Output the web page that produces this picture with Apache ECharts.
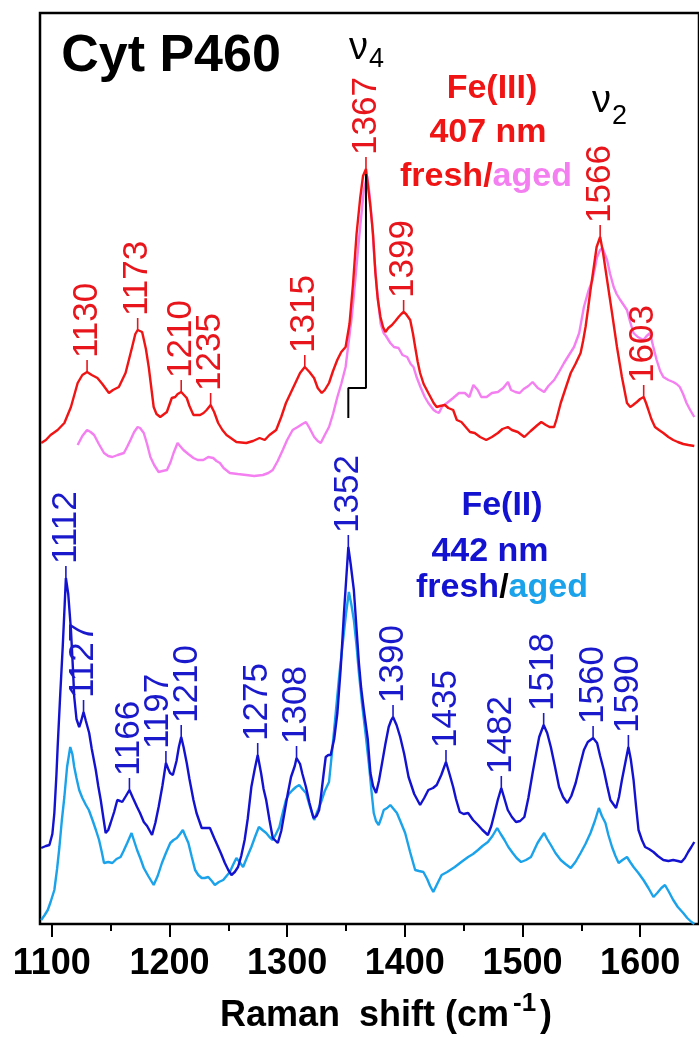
<!DOCTYPE html>
<html>
<head>
<meta charset="utf-8">
<script src="https://cdn.jsdelivr.net/npm/echarts@6/dist/echarts.min.js"></script>
<style>
  html, body { margin: 0; padding: 0; background: #fff; }
  #chart { width: 699px; height: 1038px; }
</style>
</head>
<body>
<div id="chart"></div>
<script>
// Resonance Raman spectra of Cyt P460: Fe(III) at 407 nm excitation and Fe(II) at 442 nm,
// each as a fresh and an aged sample. Points are [Raman shift (cm-1), intensity (a.u., offset)].

const fe3Fresh = [
  [1091,481],[1095,484],[1099,489],[1105,494],[1110.7,501],[1116.3,517],[1122,541],[1126,549],[1130,552],
  [1134,549],[1138.8,546],[1143,540],[1148.6,531],[1152,534],[1157,537],[1162.7,551],[1168.3,577],[1171,590],
  [1173,594],[1176.8,592],[1180,575],[1182.4,557],[1186.6,517],[1189,510],[1192.2,507],[1197.8,512],[1202,526],
  [1204.9,527],[1207,530],[1210,532],[1214.7,526],[1217,518],[1220.4,509],[1226,509],[1229,511],[1231.6,514],
  [1235,519],[1238,512],[1241.4,501],[1245,494],[1248.5,489],[1256.9,482],[1265.3,481],[1271,483],[1276.6,486],
  [1281,484],[1285,489],[1290.7,494],[1295,507],[1299,521],[1303,531],[1307.4,542],[1311,551],[1315,557],
  [1319,552],[1322.9,546],[1326,536],[1329.4,531],[1332,534],[1335.6,541],[1339,553],[1342.6,564],[1346,572],
  [1349.7,577],[1353,600],[1356,640],[1359,690],[1362,725],[1364.5,748],[1367,755],[1369,735],[1370.8,717],
  [1373,690],[1375,651],[1377,625],[1379.3,607],[1381.5,597],[1383.5,592],[1386,596],[1389.1,599],[1392,603],
  [1394.7,607],[1397,610],[1399,612],[1401,610],[1404.6,604],[1407,590],[1408.8,577],[1411,562],[1413,551],
  [1416,540],[1420,531],[1424.5,521],[1427.1,517],[1430,518],[1434.1,519],[1437,516],[1441.1,514],[1444.2,504],
  [1448.1,502],[1455.4,492],[1459.4,491],[1464,487],[1469.2,484],[1474,487],[1479.1,491],[1483,495],[1487.5,497],
  [1491,494],[1496,492],[1501.6,487],[1507,493],[1512.8,499],[1516,502],[1519.9,499],[1523,497],[1526.9,497],
  [1529,505],[1532.5,521],[1537,537],[1541,551],[1545,560],[1549.4,571],[1551.5,583],[1553.6,597],[1555.7,615],
  [1557.8,634],[1560,652],[1563,677],[1566,687],[1568.5,671],[1571.9,644],[1576.1,611],[1580.3,577],[1584.5,547],
  [1588.8,521],[1591.6,517],[1594,519],[1597.2,522],[1600,525],[1603,527],[1605,521],[1607,514],[1609.5,505],
  [1612.6,497],[1616,494],[1619.7,491],[1624,487],[1628.1,484],[1632,482],[1636.6,480],[1641,479],[1646,478]
];

const fe3Aged = [
  [1122,479],[1126,488],[1130,494],[1133,492],[1136,489],[1140,480],[1144.4,471],[1148,468],[1151.5,467],
  [1156,469],[1161.3,471],[1164,477],[1166.9,484],[1170,492],[1173,497],[1175,496],[1178.2,491],[1181,480],
  [1183.8,467],[1187,459],[1190.8,452],[1194,453],[1197.9,454],[1201,462],[1203.5,471],[1206.9,481],[1209,478],
  [1211.9,474],[1216,470],[1220.4,466],[1224,464],[1228.8,464],[1233,467],[1237.2,466],[1240,463],[1242.9,461],
  [1246,456],[1251.3,451],[1258,450],[1265.3,449],[1272,448],[1279.4,449],[1284,451],[1287.8,454],[1292,463],
  [1296.3,474],[1300,484],[1304.7,494],[1309,497],[1313,500],[1316,502],[1319,496],[1323,487],[1326,483],
  [1328.6,481],[1332,489],[1335.6,497],[1339,510],[1342.7,527],[1346,540],[1349.7,557],[1355.3,611],[1358,645],
  [1361,684],[1365.2,734],[1368,748],[1370,730],[1372.2,701],[1374,668],[1376.4,634],[1379.5,600],[1382,591],
  [1384,588],[1387.7,581],[1390.8,577],[1394.7,576],[1398,569],[1402,567],[1405,560],[1407.4,557],[1410,547],
  [1413.3,537],[1417,527],[1420,521],[1424.5,514],[1427,512],[1429,511],[1432,518],[1435.8,521],[1441.1,526],
  [1446,531],[1451,531],[1454.8,527],[1458.3,539],[1462,534],[1465,527],[1469.5,527],[1474,531],[1479.1,532],
  [1483.6,536],[1487.7,542],[1490.3,534],[1494,532],[1497.6,531],[1501,535],[1505,538],[1508.6,542],[1513,536],
  [1518.4,532],[1522,538],[1526.9,544],[1531,552],[1535.3,561],[1539,568],[1543.8,577],[1548.2,591],[1552.2,617],
  [1556,633],[1559.5,644],[1563.4,667],[1566,674],[1568,676],[1571.9,664],[1574.5,650],[1577.5,637],[1580,630],
  [1583.1,624],[1586,619],[1588.8,614],[1591.5,602],[1594.4,591],[1598,587],[1602.8,584],[1605.5,588],
  [1608.4,591],[1611,578],[1614,564],[1617,553],[1619.7,547],[1624,544],[1628.1,542],[1631,540],[1633.7,537],
  [1636.5,530],[1639.4,521],[1642.5,514],[1646,507]
];

const fe2Fresh = [
  [1091,76],[1095,78],[1098,79],[1100.5,90],[1102.2,111],[1104,150],[1105,177],[1107,225],[1109.3,277],
  [1111,320],[1112,346],[1114,330],[1116.3,294],[1118,255],[1119.1,227],[1121,205],[1123.3,197],[1125,203],
  [1127,212],[1129,203],[1131.8,191],[1134,175],[1137.4,154],[1139.5,138],[1141.6,124],[1144,105],[1145.8,91],
  [1148,94],[1150,101],[1153,112],[1155.7,124],[1158,123],[1159.9,122],[1163,128],[1166,134],[1169,126],
  [1172.5,117],[1175,111],[1178.2,102],[1181,98],[1185.2,89],[1188,101],[1190.8,117],[1194,138],[1197,161],
  [1199,155],[1200.5,151],[1202.9,149],[1206,163],[1208,177],[1210,187],[1212,177],[1214.7,161],[1217,145],
  [1220.4,124],[1223,111],[1227.4,96],[1231,96],[1234.4,96],[1238,86],[1241.4,77],[1244,70],[1247.1,61],
  [1250,54],[1252.7,49],[1255.5,52],[1258.3,57],[1261,68],[1263.9,84],[1266.5,105],[1269.6,137],[1272.5,155],
  [1275,169],[1278,150],[1280,135],[1282.2,124],[1285,104],[1287.8,86],[1292.1,81],[1295,93],[1297.7,111],
  [1300.5,130],[1303.3,147],[1306.5,158],[1308,166],[1311,160],[1313,150],[1316,137],[1319,121],[1322.4,106],
  [1325,108],[1327.2,114],[1329,130],[1331,150],[1332.8,167],[1335,169],[1337,169],[1340,185],[1342.7,211],
  [1345.5,255],[1348.3,311],[1350.5,350],[1352,377],[1354,360],[1356.7,334],[1359,295],[1361,261],[1363,235],
  [1365.2,214],[1368.5,185],[1370.8,151],[1373,138],[1375.6,131],[1378,143],[1380.7,161],[1383.5,180],
  [1386.3,197],[1388.5,204],[1390,207],[1393,199],[1396.1,187],[1399.5,170],[1403.2,147],[1408,130],[1413,119],
  [1416.5,126],[1420,134],[1424,136],[1427.1,139],[1431,149],[1435,162],[1438,150],[1441.1,137],[1443.5,125],
  [1446.7,112],[1450,110],[1453.8,111],[1458,104],[1462.2,99],[1466,94],[1470.6,89],[1473.5,98],[1476.3,111],
  [1479,124],[1482,136],[1485,124],[1487.5,114],[1491,107],[1494.5,102],[1498,103],[1501.6,107],[1505,126],
  [1508.6,151],[1511.5,170],[1514.2,187],[1518,199],[1521,191],[1524.1,177],[1527.5,158],[1531.1,137],
  [1534.5,127],[1538.1,121],[1541.5,128],[1545.2,141],[1548.5,157],[1552.2,174],[1555.5,182],[1560,186],
  [1563.4,181],[1566,168],[1569.1,154],[1572,138],[1574.7,124],[1579.5,116],[1582,127],[1584.5,144],
  [1587.5,162],[1590,177],[1592,165],[1594.4,144],[1596.5,118],[1598.6,94],[1601.5,84],[1604.2,77],
  [1607.5,75],[1611.3,72],[1615,68],[1619.7,64],[1624,63],[1628.1,64],[1632,63],[1635.1,62],[1638,66],
  [1640.8,72],[1643.5,77],[1646,82]
];

const fe2Aged = [
  [1091,4],[1094,9],[1096.6,14],[1099,22],[1102.2,34],[1104.5,55],[1106.5,77],[1108.5,103],[1110.7,127],
  [1113,157],[1115.7,177],[1117.5,170],[1119.1,157],[1121,146],[1123.3,134],[1126,126],[1129,119],[1131.5,114],
  [1134.6,104],[1137.5,94],[1140.2,84],[1142.5,72],[1144.4,61],[1148,62],[1151.5,61],[1155,65],[1158.5,67],
  [1161,73],[1164.1,81],[1167.8,91],[1170,83],[1172.5,74],[1175.5,65],[1178.2,56],[1182,48],[1186.6,39],
  [1190,48],[1193.6,61],[1197,71],[1200.7,81],[1203.5,84],[1206.3,86],[1209,90],[1211.4,94],[1213.5,88],
  [1216.1,81],[1219,67],[1221.8,54],[1224.5,49],[1227.4,46],[1230,46],[1233,47],[1236,43],[1238.6,39],
  [1242,42],[1245.7,44],[1248.5,48],[1251.3,52],[1254,59],[1256.9,66],[1259.5,62],[1262.6,57],[1266,67],
  [1269.6,77],[1273,88],[1276,97],[1279,94],[1282.2,91],[1285,87],[1287.8,84],[1290.5,90],[1293.4,97],
  [1296,110],[1299,124],[1301.5,130],[1304.7,134],[1307.5,137],[1310.3,139],[1313,135],[1316,131],[1319.5,117],
  [1323,104],[1325.5,112],[1328.6,121],[1332,133],[1335.6,142],[1338,170],[1341.3,211],[1344,245],[1346.9,277],
  [1350,310],[1352.5,332],[1354.5,320],[1356.7,304],[1359,278],[1361,251],[1363.5,222],[1366.6,191],
  [1369.4,161],[1371.5,135],[1373.6,111],[1375.5,103],[1377.8,99],[1380,106],[1382.1,114],[1385,116],
  [1387.7,119],[1390.5,115],[1393.3,111],[1396.5,102],[1400.3,91],[1404.5,72],[1408.8,54],[1412,53],
  [1415.8,52],[1419,45],[1421.5,38],[1424.2,32],[1427.5,40],[1431.3,49],[1436,52],[1442.5,57],[1448,62],
  [1453.8,67],[1458,70],[1462.2,74],[1466,78],[1470.6,82],[1474.5,88],[1478.5,96],[1481.5,90],[1484.7,84],
  [1488,77],[1491.7,71],[1495,66],[1498.8,62],[1503,64],[1507.2,67],[1510,74],[1512.8,81],[1515.5,86],
  [1518.4,91],[1521,85],[1524.1,79],[1528,71],[1532.5,64],[1536.5,60],[1541,56],[1545,62],[1549.4,71],
  [1553.5,80],[1557.8,91],[1561.5,103],[1564.9,116],[1567.5,108],[1570.5,101],[1573,89],[1576.1,77],
  [1579,68],[1581.7,61],[1585,64],[1588.8,67],[1591.5,62],[1594.4,57],[1598.5,51],[1602.8,44],[1607,36],
  [1611.3,27],[1614.5,31],[1618,36],[1621.1,39],[1624.5,32],[1628.1,24],[1632,17],[1636.6,11],[1640,6],
  [1643.6,2],[1646,0]
];

// Assigned band positions (cm-1)
const fe3Bands = [1130, 1173, 1210, 1235, 1315, 1367, 1399, 1566, 1603];
const fe2Bands = [1112, 1127, 1166, 1197, 1210, 1275, 1308, 1352, 1390, 1435, 1482, 1518, 1560, 1590];

// nu4 marker: shift of the oxidation-state band from 1352 (Fe(II)) to 1367 (Fe(III))
const nu4Shift = [[1367, 750], [1367, 536], [1352, 536], [1352, 506]];

// Axis ticks
const majorTicks = [1100, 1200, 1300, 1400, 1500, 1600];
const minorTicks = [1150, 1250, 1350, 1450, 1550];

const C = {
  red: '#f01414',
  pink: '#f47ff0',
  blue: '#1212d0',
  sky: '#1aa2ea',
  redText: '#e8161c',
  blueText: '#1a1acc'
};
const SANS = '"Liberation Sans", Arial, sans-serif';
const NARROW = '"Liberation Sans Narrow", "Arial Narrow", sans-serif';

// Sideways nudges (px) so that crowded band labels do not collide
const labelNudge = { 1197: -8, 1210: 6 };

// Height of a spectrum at one of its listed wavenumbers
function heightAt(spectrum, x) {
  const p = spectrum.find(d => d[0] === x);
  return p ? p[1] : 0;
}

function bandLabels(spectrum, bands, color, nudge) {
  return {
    type: 'custom',
    coordinateSystem: 'cartesian2d',
    xAxisIndex: 0,
    yAxisIndex: 0,
    silent: true,
    clip: false,
    z: 5,
    data: bands.map(b => [b, heightAt(spectrum, b)]),
    renderItem: function (params, api) {
      const band = api.value(0);
      const p = api.coord([band, api.value(1)]);
      const tick = 12, gap = 2;
      const dx = (nudge && nudge[band]) || 0;
      return {
        type: 'group',
        children: [
          { type: 'line',
            shape: { x1: p[0], y1: p[1], x2: p[0], y2: p[1] - tick },
            style: { stroke: color, lineWidth: 1.6 } },
          { type: 'text',
            x: p[0] + dx, y: p[1] - tick - gap, rotation: Math.PI / 2,
            style: { text: String(band), fill: color,
                     font: '35px ' + NARROW, align: 'left', verticalAlign: 'middle' } }
        ]
      };
    }
  };
}

function spectrumSeries(data, color, z) {
  return {
    type: 'line', data: data, showSymbol: false, symbol: 'none',
    lineStyle: { color: color, width: 2.4 }, z: z, silent: true
  };
}

const chart = echarts.init(document.getElementById('chart'), null, { renderer: 'canvas' });

chart.setOption({
  animation: false,
  backgroundColor: '#ffffff',
  grid: {
    left: 40, top: 13, right: -5, bottom: 114,
    show: true, borderColor: '#000', borderWidth: 2.5, backgroundColor: 'transparent'
  },
  xAxis: [
    {
      type: 'value', min: 1090, max: 1650,
      axisLine: { show: false },
      splitLine: { show: false },
      axisTick: { show: true, inside: false, length: 13, customValues: majorTicks,
                  lineStyle: { color: '#000', width: 2 } },
      axisLabel: { show: true, customValues: majorTicks, margin: 22,
                   formatter: v => String(v),
                   color: '#000', fontSize: 36, fontWeight: 'bold', fontFamily: SANS }
    },
    {
      type: 'value', min: 1090, max: 1650, gridIndex: 0, position: 'bottom',
      axisLine: { show: false },
      splitLine: { show: false },
      axisTick: { show: true, inside: false, length: 7, customValues: minorTicks,
                  lineStyle: { color: '#000', width: 2 } },
      axisLabel: { show: false }
    }
  ],
  yAxis: { type: 'value', min: 0, max: 911, show: false },
  series: [
    spectrumSeries(fe3Aged, C.pink, 2),
    spectrumSeries(fe3Fresh, C.red, 3),
    spectrumSeries(fe2Aged, C.sky, 2),
    spectrumSeries(fe2Fresh, C.blue, 3),
    { type: 'line', data: nu4Shift, showSymbol: false, symbol: 'none',
      lineStyle: { color: '#000', width: 2 }, z: 4, silent: true },
    bandLabels(fe3Fresh, fe3Bands, C.redText, null),
    bandLabels(fe2Fresh, fe2Bands, C.blueText, labelNudge)
  ],
  graphic: [
    { type: 'text', x: 171, y: 57, style: { text: 'Cyt P460', fill: '#000',
      font: 'bold 52px ' + SANS, align: 'center', verticalAlign: 'middle' } },

    { type: 'text', x: 349, y: 49, style: { text: 'ν', fill: '#000',
      font: '38px ' + SANS, align: 'left', verticalAlign: 'middle' } },
    { type: 'text', x: 369, y: 60, style: { text: '4', fill: '#000',
      font: '27px ' + SANS, align: 'left', verticalAlign: 'middle' } },
    { type: 'text', x: 592, y: 102, style: { text: 'ν', fill: '#000',
      font: '38px ' + SANS, align: 'left', verticalAlign: 'middle' } },
    { type: 'text', x: 612, y: 117, style: { text: '2', fill: '#000',
      font: '27px ' + SANS, align: 'left', verticalAlign: 'middle' } },

    { type: 'text', x: 492, y: 89, style: { text: 'Fe(III)', fill: C.red,
      font: 'bold 34px ' + SANS, align: 'center', verticalAlign: 'middle' } },
    { type: 'text', x: 488, y: 133, style: { text: '407 nm', fill: C.red,
      font: 'bold 34px ' + SANS, align: 'center', verticalAlign: 'middle' } },
    { type: 'text', x: 400, y: 177, style: { text: '{a|fresh/}{b|aged}',
      align: 'left', verticalAlign: 'middle',
      rich: { a: { fill: C.red, font: 'bold 34px ' + SANS },
              b: { fill: C.pink, font: 'bold 34px ' + SANS } } } },

    { type: 'text', x: 502, y: 506, style: { text: 'Fe(II)', fill: C.blue,
      font: 'bold 34px ' + SANS, align: 'center', verticalAlign: 'middle' } },
    { type: 'text', x: 490, y: 552, style: { text: '442 nm', fill: C.blue,
      font: 'bold 34px ' + SANS, align: 'center', verticalAlign: 'middle' } },
    { type: 'text', x: 416, y: 588, style: { text: '{a|fresh}{k|/}{b|aged}',
      align: 'left', verticalAlign: 'middle',
      rich: { a: { fill: C.blue, font: 'bold 34px ' + SANS },
              k: { fill: '#000', font: 'bold 34px ' + SANS },
              b: { fill: C.sky, font: 'bold 34px ' + SANS } } } },

    // x-axis title: Raman shift (cm-1)
    { type: 'text', x: 220, y: 1016, style: { text: 'Raman', fill: '#000',
      font: 'bold 36px ' + SANS, align: 'left', verticalAlign: 'middle' } },
    { type: 'text', x: 359, y: 1016, style: { text: 'shift (cm', fill: '#000',
      font: 'bold 36px ' + SANS, align: 'left', verticalAlign: 'middle' } },
    { type: 'text', x: 513, y: 1004, style: { text: '-1', fill: '#000',
      font: 'bold 26px ' + SANS, align: 'left', verticalAlign: 'middle' } },
    { type: 'text', x: 540, y: 1016, style: { text: ')', fill: '#000',
      font: 'bold 36px ' + SANS, align: 'left', verticalAlign: 'middle' } }
  ]
});
</script>
</body>
</html>
